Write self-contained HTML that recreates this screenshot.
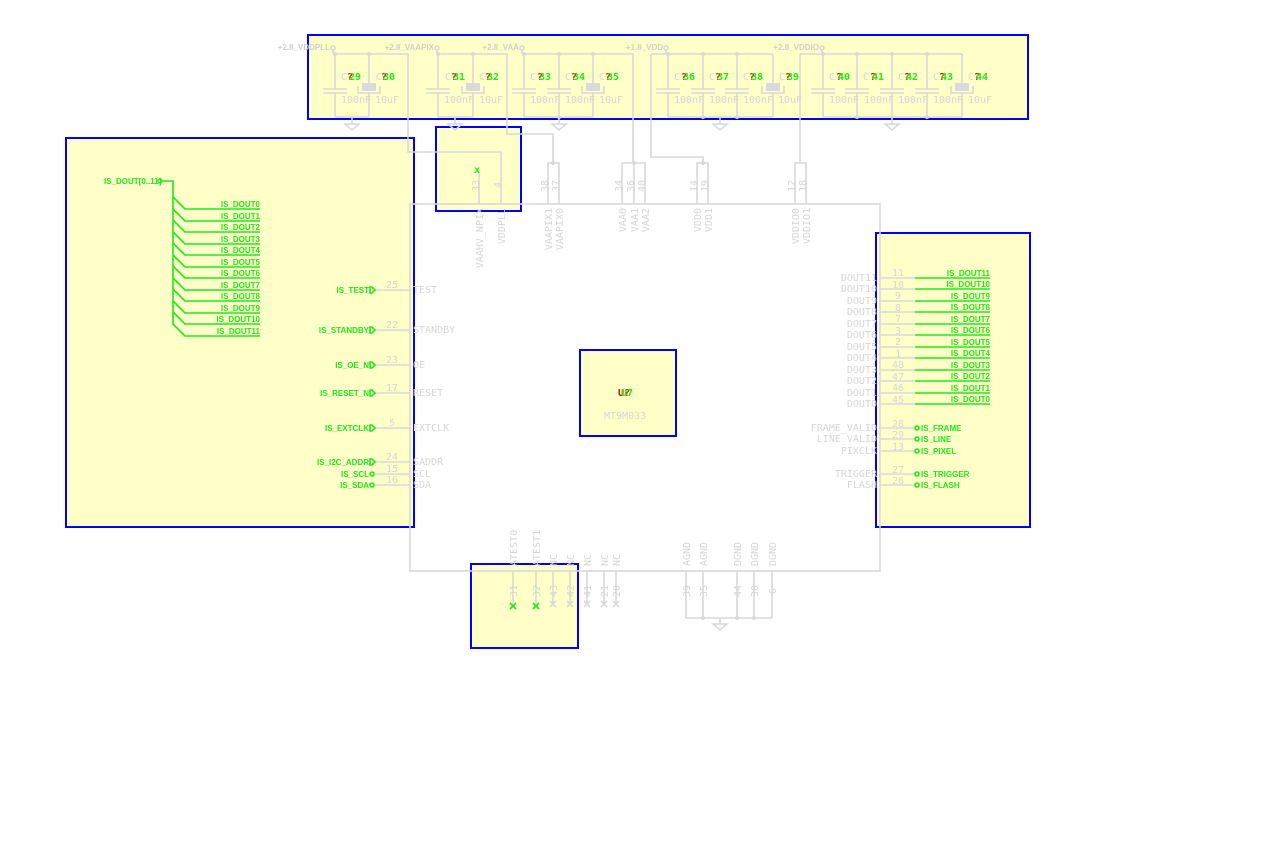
<!DOCTYPE html>
<html><head><meta charset="utf-8"><style>
html,body{margin:0;padding:0;background:#fff;}
svg{display:block;font-family:"DejaVu Sans Mono","Liberation Mono",monospace;}
.g{stroke:#d9d9d9;stroke-width:1.6;fill:none}
.t{fill:#d6d6d6;font-size:10px}
.gr{fill:#1ee81e;font-size:8px;font-weight:bold;font-family:"Liberation Sans",sans-serif}
.gl{stroke:#1ee81e;stroke-width:1.6;fill:none}
.b{fill:#ffffc8;stroke:#0000ff;stroke-width:2}
.cn{fill:#1ee81e;font-size:10px;font-weight:bold}
.q{fill:#e00;font-size:10px;font-weight:bold}
.pl{fill:#cfcfcf;font-size:8px;font-weight:bold;font-family:"Liberation Sans",sans-serif}
</style></head><body>
<svg width="1280" height="850" viewBox="0 0 1280 850" xmlns="http://www.w3.org/2000/svg">
<rect x="308" y="35" width="720" height="84" class="b"/>
<rect x="66" y="138" width="348" height="389" class="b"/>
<rect x="436" y="127" width="85" height="84" class="b"/>
<rect x="876" y="233" width="154" height="294" class="b"/>
<rect x="580" y="350" width="96" height="86" class="b"/>
<rect x="471" y="564" width="107" height="84" class="b"/>

<rect x="410" y="204" width="470" height="367" class="g"/>

<g class="pl" text-anchor="end">
<text x="330" y="50">+2.8_VDDPLL</text>
<text x="434" y="50">+2.8_VAAPIX</text>
<text x="519" y="50">+2.8_VAA</text>
<text x="663" y="50">+1.8_VDD</text>
<text x="819" y="50">+2.8_VDDIO</text>
</g>
<g class="g">
<circle cx="333" cy="48" r="2"/><circle cx="437" cy="48" r="2"/><circle cx="522" cy="48" r="2"/><circle cx="666" cy="48" r="2"/><circle cx="822" cy="48" r="2"/>
<path d="M333 50V54M437 50V54M522 50V54M666 50V54M822 50V54"/>
<path d="M333 54H408V152H501V204"/>
<path d="M437 54H507V134H553V163"/>
<path d="M522 54H633V163"/>
<path d="M651 54H773M651 54V157H703V163"/>
<path d="M800 54H962M800 54V163"/>
<path d="M548 204V163H559V204M622 204V163H645V204M634 163V204M697 204V163H708V204M795 204V163H806V204"/>
<path d="M479 204V169"/>
<path d="M335 117H369M438 117H473M524 117H593M668 117H773M823 117H962"/>
</g>
<g class="g">
<path d="M335 54V89M323 89H347M323 93H347M335 93V117"/>
<path d="M438 54V89M426 89H450M426 93H450M438 93V117"/>
<path d="M524 54V89M512 89H536M512 93H536M524 93V117"/>
<path d="M559 54V89M547 89H571M547 93H571M559 93V117"/>
<path d="M668 54V89M656 89H680M656 93H680M668 93V117"/>
<path d="M703 54V89M691 89H715M691 93H715M703 93V117"/>
<path d="M737 54V89M725 89H749M725 93H749M737 93V117"/>
<path d="M823 54V89M811 89H835M811 93H835M823 93V117"/>
<path d="M857 54V89M845 89H869M845 93H869M857 93V117"/>
<path d="M892 54V89M880 89H904M880 93H904M892 93V117"/>
<path d="M927 54V89M915 89H939M915 93H939M927 93V117"/>
<path d="M369 54V83M358 86V93H380V86M369 93V117"/>
<path d="M473 54V83M462 86V93H484V86M473 93V117"/>
<path d="M593 54V83M582 86V93H604V86M593 93V117"/>
<path d="M773 54V83M762 86V93H784V86M773 93V117"/>
<path d="M962 54V83M951 86V93H973V86M962 93V117"/>
</g>
<g fill="#dadada">
<rect x="362" y="83" width="14" height="8"/><rect x="466" y="83" width="14" height="8"/><rect x="586" y="83" width="14" height="8"/><rect x="766" y="83" width="14" height="8"/><rect x="955" y="83" width="14" height="8"/>
</g>
<g fill="#d9d9d9">
<circle cx="335" cy="54" r="2"/><circle cx="369" cy="54" r="2"/><circle cx="438" cy="54" r="2"/><circle cx="473" cy="54" r="2"/><circle cx="524" cy="54" r="2"/><circle cx="559" cy="54" r="2"/><circle cx="593" cy="54" r="2"/><circle cx="668" cy="54" r="2"/><circle cx="703" cy="54" r="2"/><circle cx="737" cy="54" r="2"/><circle cx="823" cy="54" r="2"/><circle cx="857" cy="54" r="2"/><circle cx="892" cy="54" r="2"/><circle cx="927" cy="54" r="2"/>
<circle cx="559" cy="117" r="2"/><circle cx="703" cy="117" r="2"/><circle cx="737" cy="117" r="2"/><circle cx="857" cy="117" r="2"/><circle cx="927" cy="117" r="2"/>
<circle cx="553" cy="163" r="2"/><circle cx="634" cy="163" r="2"/><circle cx="703" cy="163" r="2"/>
<circle cx="703" cy="618" r="2"/><circle cx="737" cy="618" r="2"/><circle cx="754" cy="618" r="2"/>
</g>
<g class="g">
<path d="M352 117V124M345 124H359L352 130Z"/>
<path d="M455 117V124M448 124H462L455 130Z"/>
<path d="M559 117V124M552 124H566L559 130Z"/>
<path d="M720 117V124M713 124H727L720 130Z"/>
<path d="M892 117V124M885 124H899L892 130Z"/>
<path d="M720 618V624M713 624H727L720 630Z"/>
</g>
<g class="t">
<text x="341" y="80">C</text><text x="445" y="80">C</text><text x="530" y="80">C</text><text x="565" y="80">C</text><text x="376" y="80">C</text><text x="479" y="80">C</text><text x="599" y="80">C</text>
<text x="674" y="80">C</text><text x="709" y="80">C</text><text x="743" y="80">C</text><text x="779" y="80">C</text>
<text x="829" y="80">C</text><text x="863" y="80">C</text><text x="898" y="80">C</text><text x="933" y="80">C</text><text x="968" y="80">C</text>
<text x="341" y="103">100nF</text><text x="375" y="103">10uF</text>
<text x="444" y="103">100nF</text><text x="479" y="103">10uF</text>
<text x="530" y="103">100nF</text><text x="565" y="103">100nF</text><text x="599" y="103">10uF</text>
<text x="674" y="103">100nF</text><text x="709" y="103">100nF</text><text x="743" y="103">100nF</text><text x="778" y="103">10uF</text>
<text x="829" y="103">100nF</text><text x="864" y="103">100nF</text><text x="898" y="103">100nF</text><text x="933" y="103">100nF</text><text x="968" y="103">10uF</text>
</g>
<g class="q">
<text x="347" y="80">?</text><text x="381" y="80">?</text><text x="451" y="80">?</text><text x="485" y="80">?</text><text x="537" y="80">?</text><text x="571" y="80">?</text><text x="605" y="80">?</text>
<text x="681" y="80">?</text><text x="715" y="80">?</text><text x="749" y="80">?</text><text x="785" y="80">?</text>
<text x="836" y="80">?</text><text x="870" y="80">?</text><text x="904" y="80">?</text><text x="939" y="80">?</text><text x="974" y="80">?</text>
</g>
<g class="cn">
<text x="349" y="80">29</text><text x="383" y="80">30</text><text x="453" y="80">31</text><text x="487" y="80">32</text><text x="539" y="80">33</text><text x="573" y="80">34</text><text x="607" y="80">35</text>
<text x="683" y="80">36</text><text x="717" y="80">37</text><text x="751" y="80">38</text><text x="787" y="80">39</text>
<text x="838" y="80">40</text><text x="872" y="80">41</text><text x="906" y="80">42</text><text x="941" y="80">43</text><text x="976" y="80">44</text>
</g>
<text x="474" y="173" class="cn">x</text>

<g class="t">
<text transform="translate(479,192) rotate(-90)">33</text>
<text transform="translate(501,188) rotate(-90)">4</text>
<text transform="translate(548,192) rotate(-90)">38</text>
<text transform="translate(559,192) rotate(-90)">37</text>
<text transform="translate(622,192) rotate(-90)">34</text>
<text transform="translate(634,192) rotate(-90)">36</text>
<text transform="translate(645,192) rotate(-90)">40</text>
<text transform="translate(697,192) rotate(-90)">14</text>
<text transform="translate(708,192) rotate(-90)">19</text>
<text transform="translate(795,192) rotate(-90)">12</text>
<text transform="translate(806,192) rotate(-90)">18</text>
</g>
<g class="t" font-size="9" text-anchor="end">
<text transform="translate(483,208) rotate(-90)">VAAHV_NPIX</text>
<text transform="translate(505,208) rotate(-90)">VDDPLL</text>
<text transform="translate(552,208) rotate(-90)">VAAPIX1</text>
<text transform="translate(563,208) rotate(-90)">VAAPIX0</text>
<text transform="translate(626,208) rotate(-90)">VAA0</text>
<text transform="translate(638,208) rotate(-90)">VAA1</text>
<text transform="translate(649,208) rotate(-90)">VAA2</text>
<text transform="translate(701,208) rotate(-90)">VDD0</text>
<text transform="translate(712,208) rotate(-90)">VDD1</text>
<text transform="translate(799,208) rotate(-90)">VDDIO0</text>
<text transform="translate(810,208) rotate(-90)">VDDIO1</text>
</g>

<text x="104" y="184" class="gr" font-size="7">IS_DOUT[0..11]</text>
<g class="gl">
<circle cx="160" cy="181" r="2" stroke-width="1.2"/>
<path d="M162 181H173V325"/>
<path d="M173 197L185 209H260M173 209L185 221H260M173 220L185 232H260M173 232L185 244H260M173 243L185 255H260M173 255L185 267H260M173 266L185 278H260M173 278L185 290H260M173 289L185 301H260M173 301L185 313H260M173 312L185 324H260M173 324L185 336H260"/>
</g>
<g class="gr" font-size="7" text-anchor="end">
<text x="260" y="207">IS_DOUT0</text><text x="260" y="219">IS_DOUT1</text><text x="260" y="230">IS_DOUT2</text><text x="260" y="242">IS_DOUT3</text><text x="260" y="253">IS_DOUT4</text><text x="260" y="265">IS_DOUT5</text><text x="260" y="276">IS_DOUT6</text><text x="260" y="288">IS_DOUT7</text><text x="260" y="299">IS_DOUT8</text><text x="260" y="311">IS_DOUT9</text><text x="260" y="322">IS_DOUT10</text><text x="260" y="334">IS_DOUT11</text>
</g>

<g class="g">
<path d="M375 290H410M375 330H410M375 365H410M375 393H410M375 428H410M375 462H410M375 474H410M375 485H410"/>
</g>
<g class="gl" stroke-width="1.2">
<path d="M370 287H372L375 290L372 293H370ZM370 327H372L375 330L372 333H370ZM370 362H372L375 365L372 368H370ZM370 390H372L375 393L372 396H370ZM370 425H372L375 428L372 431H370ZM370 459H372L375 462L372 465H370Z"/>
<circle cx="372" cy="474" r="2"/><circle cx="372" cy="485" r="2"/>
</g>
<g class="gr" font-size="7" text-anchor="end">
<text x="369" y="293">IS_TEST</text><text x="369" y="333">IS_STANDBY</text><text x="369" y="368">IS_OE_N</text><text x="369" y="396">IS_RESET_N</text><text x="369" y="431">IS_EXTCLK</text><text x="369" y="465">IS_I2C_ADDR</text><text x="369" y="477">IS_SCL</text><text x="369" y="488">IS_SDA</text>
</g>
<g class="t">
<text x="386" y="288">25</text><text x="386" y="328">22</text><text x="386" y="363">23</text><text x="386" y="391">17</text><text x="389" y="426">5</text><text x="386" y="460">24</text><text x="386" y="472">15</text><text x="386" y="483">16</text>
<text x="413" y="293">TEST</text><text x="413" y="333">STANDBY</text><text x="413" y="368">OE</text><text x="413" y="396">RESET</text><text x="413" y="431">EXTCLK</text><text x="413" y="465">SADDR</text><text x="413" y="477">SCL</text><text x="413" y="488">SDA</text>
</g>

<g class="g">
<path d="M880 278H915M880 289H915M880 301H915M880 312H915M880 324H915M880 335H915M880 347H915M880 358H915M880 370H915M880 381H915M880 393H915M880 404H915M880 428H915M880 439H915M880 451H915M880 474H915M880 485H915"/>
</g>
<g class="gl">
<path d="M915 278H990M915 289H990M915 301H990M915 312H990M915 324H990M915 335H990M915 347H990M915 358H990M915 370H990M915 381H990M915 393H990M915 404H990"/>
</g>
<g class="gl" stroke-width="1.2">
<circle cx="917" cy="428" r="2"/><circle cx="917" cy="439" r="2"/><circle cx="917" cy="451" r="2"/><circle cx="917" cy="474" r="2"/><circle cx="917" cy="485" r="2"/>
</g>
<g class="gr" font-size="7" text-anchor="end">
<text x="990" y="276">IS_DOUT11</text><text x="990" y="287">IS_DOUT10</text><text x="990" y="299">IS_DOUT9</text><text x="990" y="310">IS_DOUT8</text><text x="990" y="322">IS_DOUT7</text><text x="990" y="333">IS_DOUT6</text><text x="990" y="345">IS_DOUT5</text><text x="990" y="356">IS_DOUT4</text><text x="990" y="368">IS_DOUT3</text><text x="990" y="379">IS_DOUT2</text><text x="990" y="391">IS_DOUT1</text><text x="990" y="402">IS_DOUT0</text>
</g>
<g class="gr" font-size="7">
<text x="921" y="431">IS_FRAME</text><text x="921" y="442">IS_LINE</text><text x="921" y="454">IS_PIXEL</text><text x="921" y="477">IS_TRIGGER</text><text x="921" y="488">IS_FLASH</text>
</g>
<g class="t">
<text x="892" y="276">11</text><text x="892" y="288">10</text><text x="895" y="299">9</text><text x="895" y="311">8</text><text x="895" y="322">7</text><text x="895" y="334">3</text><text x="895" y="345">2</text><text x="895" y="357">1</text><text x="892" y="368">48</text><text x="892" y="380">47</text><text x="892" y="391">46</text><text x="892" y="403">45</text>
<text x="892" y="427">28</text><text x="892" y="438">29</text><text x="892" y="450">13</text><text x="892" y="473">27</text><text x="892" y="484">26</text>
</g>
<g class="t" text-anchor="end">
<text x="877" y="281">DOUT11</text><text x="877" y="292">DOUT10</text><text x="877" y="304">DOUT9</text><text x="877" y="315">DOUT8</text><text x="877" y="327">DOUT7</text><text x="877" y="338">DOUT6</text><text x="877" y="350">DOUT5</text><text x="877" y="361">DOUT4</text><text x="877" y="373">DOUT3</text><text x="877" y="384">DOUT2</text><text x="877" y="396">DOUT1</text><text x="877" y="407">DOUT0</text>
<text x="877" y="431">FRAME_VALID</text><text x="877" y="442">LINE_VALID</text><text x="877" y="454">PIXCLK</text><text x="877" y="477">TRIGGER</text><text x="877" y="488">FLASH</text>
</g>

<text x="618" y="396" class="q">U?</text>
<text x="621" y="396" class="cn">U7</text>
<text x="604" y="419" class="t">MT9M033</text>

<g class="g">
<path d="M513 571V604M536 571V604M553 571V604M570 571V604M587 571V604M604 571V604M616 571V604"/>
<path d="M686 571V618H772V571M703 571V618M737 571V618M754 571V618"/>
<path d="M550 601L556 607M556 601L550 607M567 601L573 607M573 601L567 607M584 601L590 607M590 601L584 607M601 601L607 607M607 601L601 607M613 601L619 607M619 601L613 607"/>
</g>
<g class="gl"><path d="M510 603L516 609M516 603L510 609M533 603L539 609M539 603L533 609"/></g>
<g class="t">
<text transform="translate(517,597) rotate(-90)">31</text>
<text transform="translate(540,597) rotate(-90)">32</text>
<text transform="translate(557,597) rotate(-90)">43</text>
<text transform="translate(574,597) rotate(-90)">42</text>
<text transform="translate(591,597) rotate(-90)">41</text>
<text transform="translate(608,597) rotate(-90)">21</text>
<text transform="translate(620,597) rotate(-90)">20</text>
<text transform="translate(690,597) rotate(-90)">39</text>
<text transform="translate(707,597) rotate(-90)">35</text>
<text transform="translate(741,597) rotate(-90)">44</text>
<text transform="translate(758,597) rotate(-90)">30</text>
<text transform="translate(776,594) rotate(-90)">6</text>
</g>
<g class="t" font-size="9">
<text transform="translate(517,566) rotate(-90)">ATEST0</text>
<text transform="translate(540,566) rotate(-90)">ATEST1</text>
<text transform="translate(557,566) rotate(-90)">NC</text>
<text transform="translate(574,566) rotate(-90)">NC</text>
<text transform="translate(591,566) rotate(-90)">NC</text>
<text transform="translate(608,566) rotate(-90)">NC</text>
<text transform="translate(620,566) rotate(-90)">NC</text>
<text transform="translate(690,566) rotate(-90)">AGND</text>
<text transform="translate(707,566) rotate(-90)">AGND</text>
<text transform="translate(741,566) rotate(-90)">DGND</text>
<text transform="translate(758,566) rotate(-90)">DGND</text>
<text transform="translate(776,566) rotate(-90)">DGND</text>
</g>
</svg>
</body></html>
